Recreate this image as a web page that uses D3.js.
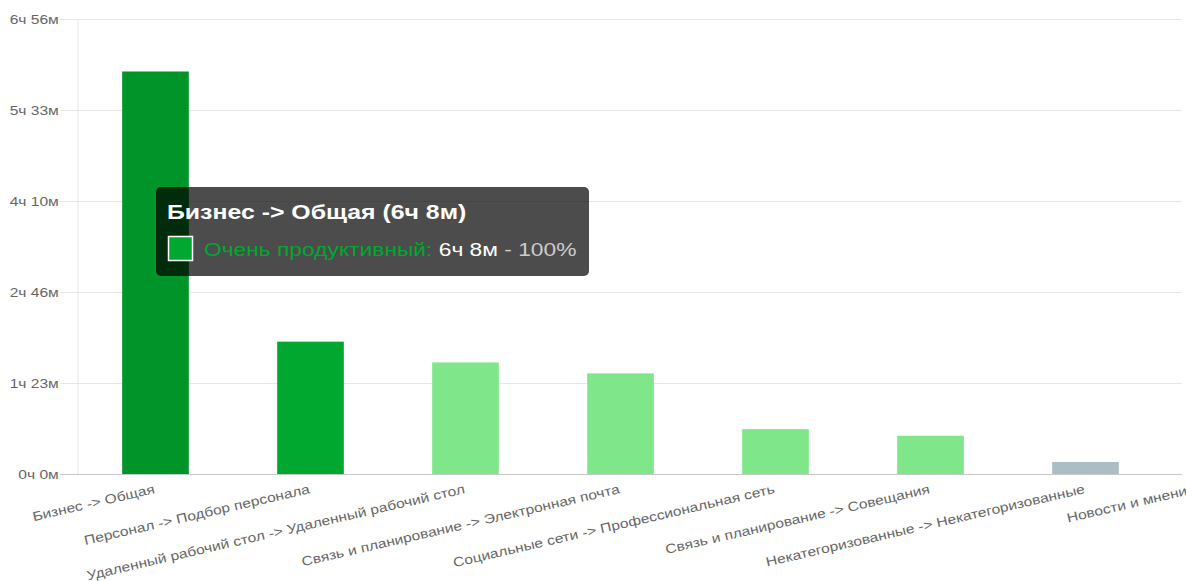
<!DOCTYPE html>
<html>
<head>
<meta charset="utf-8">
<script src="https://cdn.jsdelivr.net/npm/d3@7"></script>
<style>
  body { margin: 0; background: #fff; overflow: hidden; }
  svg { display: block; font-family: "Liberation Sans", Arial, sans-serif; }
</style>
</head>
<body>
<svg id="chart"></svg>
<script>
// categories and their totals, in minutes
var categories = [
  "Бизнес -> Общая",
  "Персонал -> Подбор персонала",
  "Удаленный рабочий стол -> Удаленный рабочий стол",
  "Связь и планирование -> Электронная почта",
  "Социальные сети -> Профессиональная сеть",
  "Связь и планирование -> Совещания",
  "Некатегоризованные -> Некатегоризованные",
  "Новости и мнения"
];
var minutes = [368, 121, 102, 92, 41, 35, 11, 8];
var levels = ["very", "very", "prod", "prod", "prod", "prod", "none", "none"];
var yTickMinutes = [0, 83.2, 166.4, 249.6, 332.8, 416];

var colors = { very: "#00a82f", prod: "#7fe689", none: "#adbdc4" };
var hoverColor = "#009429";

var width = 1186, height = 581;
var plotLeft = 78, plotTop = 19, plotBottom = 474, plotRight = 1182;
var stretch = "scale(1.2,1)"; // the source renders its text a bit wide

var svg = d3.select("#chart").attr("width", width).attr("height", height);

function fmt(m) {
  var t = Math.round(m);
  return Math.floor(t / 60) + "ч " + (t % 60) + "м";
}

// band scale is wider than the page, so the last category runs off the edge
var x = d3.scaleBand()
    .domain(categories)
    .range([plotLeft, plotLeft + 155 * categories.length])
    .paddingInner(0.57)
    .paddingOuter(0.285);

var y = d3.scaleLinear()
    .domain([0, 416])
    .range([plotBottom, plotTop]);

// grid lines
var grid = svg.append("g")
    .attr("transform", "translate(" + plotRight + ",0)")
    .call(d3.axisLeft(y).tickValues(yTickMinutes).tickSize(plotRight - 60).tickFormat(""));
grid.select(".domain").remove();
grid.selectAll(".tick line").attr("stroke", function(d) { return d === 0 ? "#c8c8c8" : "#e6e6e6"; });

svg.append("line")
    .attr("x1", plotLeft).attr("x2", plotLeft)
    .attr("y1", plotTop).attr("y2", plotBottom)
    .attr("stroke", "#e6e6e6");

// y axis labels
var yAxis = svg.append("g")
    .attr("transform", "translate(60,0)")
    .call(d3.axisLeft(y).tickValues(yTickMinutes).tickSize(0).tickPadding(1).tickFormat(fmt));
yAxis.select(".domain").remove();
yAxis.selectAll("text")
    .attr("fill", "#666")
    .attr("transform", stretch)
    .style("font-size", "13px");

// bars
svg.append("g").selectAll("rect")
  .data(categories)
  .join("rect")
    .attr("x", function(d) { return x(d); })
    .attr("width", x.bandwidth())
    .attr("y", function(d, i) { return y(minutes[i]); })
    .attr("height", function(d, i) { return plotBottom - y(minutes[i]); })
    .attr("fill", function(d, i) { return i === 0 ? hoverColor : colors[levels[i]]; });

// x axis labels; a label whose tick is off the page is pulled back to the edge
var xAxis = svg.append("g")
    .attr("transform", "translate(0," + plotBottom + ")")
    .call(d3.axisBottom(x).tickSize(0).tickPadding(0));
xAxis.select(".domain").remove();
xAxis.selectAll(".tick text")
    .attr("fill", "#666")
    .style("font-size", "13px")
    .attr("text-anchor", "end")
    .attr("y", 0)
    .attr("dy", 0)
    .attr("transform", function(d) {
      var cx = x(d) + x.bandwidth() / 2;
      var shift = Math.min(0, plotRight + 14 - cx);
      return "translate(" + shift + ",19) rotate(-13) " + stretch;
    });

// tooltip for the hovered bar
var tip = svg.append("g").attr("transform", "translate(156,187)");
tip.append("rect")
    .attr("width", 433).attr("height", 89)
    .attr("rx", 5)
    .attr("fill", "rgba(0,0,0,0.7)");
tip.append("text")
    .attr("transform", "translate(11,32) " + stretch)
    .attr("fill", "#fff")
    .style("font-size", "20.7px")
    .style("font-weight", "bold")
    .text(categories[0] + " (" + fmt(minutes[0]) + ")");
tip.append("rect")
    .attr("x", 12.5).attr("y", 49.5)
    .attr("width", 24).attr("height", 24)
    .attr("fill", colors.very)
    .attr("stroke", "#fff")
    .attr("stroke-width", 1.5);
var line2 = tip.append("text")
    .attr("transform", "translate(48,69) " + stretch)
    .style("font-size", "19px");
line2.append("tspan").attr("fill", colors.very).text("Очень продуктивный: ");
line2.append("tspan").attr("fill", "#fff").text(fmt(minutes[0]));
line2.append("tspan").attr("fill", "#ccc").text(" - 100%");
</script>
</body>
</html>
